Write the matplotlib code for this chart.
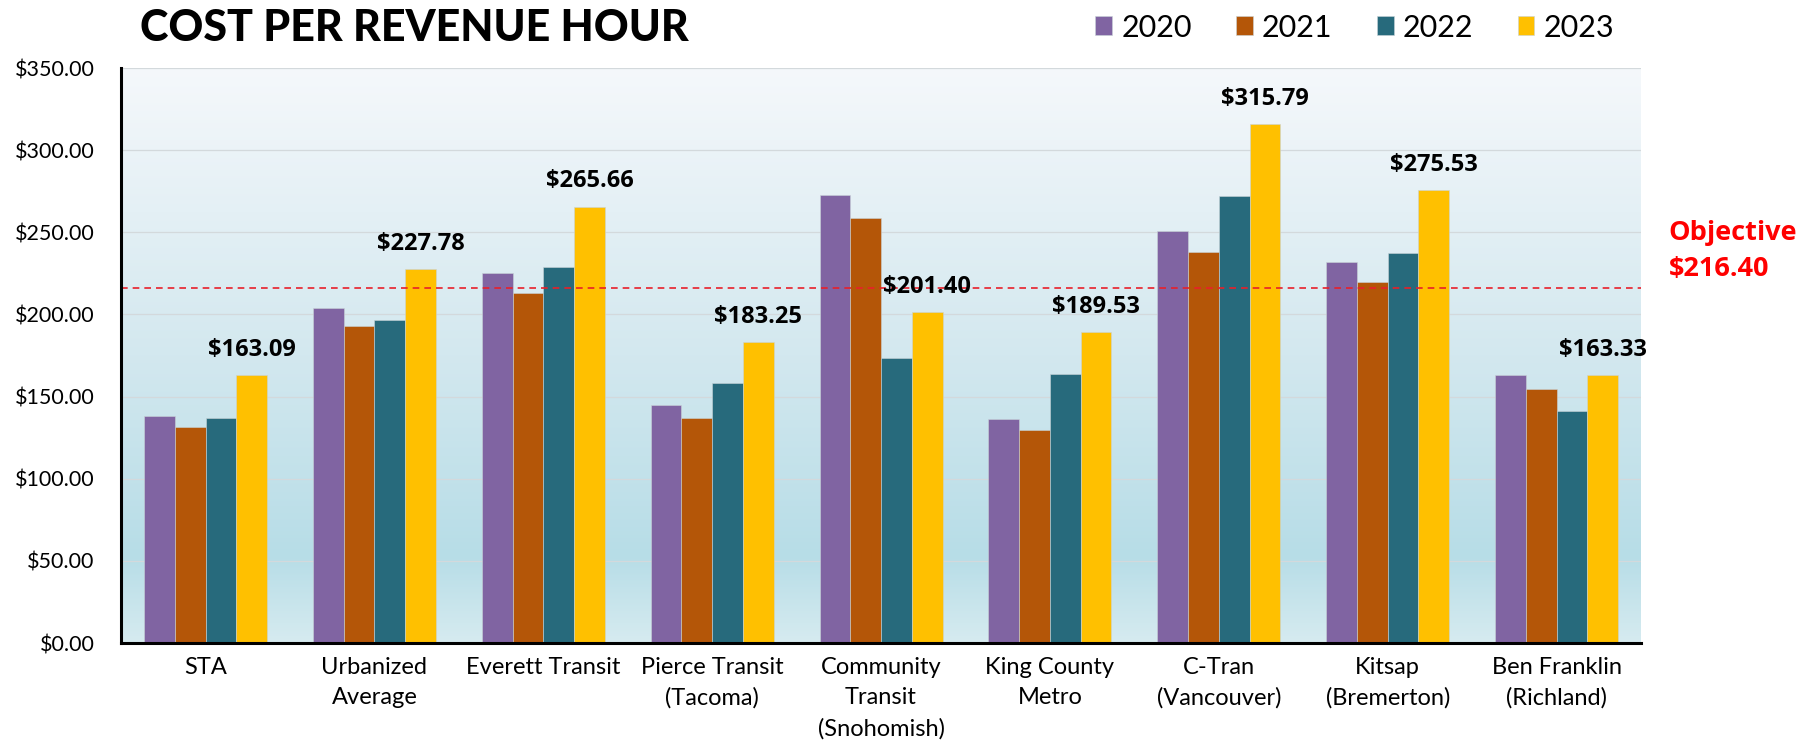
import matplotlib.pyplot as plt
import matplotlib.colors as mcolors
import numpy as np

categories = ["STA", "Urbanized\nAverage", "Everett Transit", "Pierce Transit\n(Tacoma)",
              "Community\nTransit\n(Snohomish)", "King County\nMetro", "C-Tran\n(Vancouver)",
              "Kitsap\n(Bremerton)", "Ben Franklin\n(Richland)"]
years = ["2020", "2021", "2022", "2023"]
v2020 = [138.3, 204.0, 225.0, 145.0, 273.0, 136.5, 251.0, 232.0, 163.0]
v2021 = [131.5, 193.0, 213.0, 137.0, 259.0, 129.5, 238.0, 219.5, 154.5]
v2022 = [137.0, 196.5, 229.0, 158.0, 173.5, 163.5, 272.0, 237.5, 141.0]
v2023 = [163.09, 227.78, 265.66, 183.25, 201.40, 189.53, 315.79, 275.53, 163.33]
objective = 216.40
colors = ["#8064A2", "#B45608", "#276A7C", "#FFC000"]

fig = plt.figure(figsize=(17.99, 7.45), dpi=100)
ax = fig.add_axes([0.0673, 0.1369, 0.8449, 0.7718])

# gradient background
cmap = mcolors.LinearSegmentedColormap.from_list(
    "bg", [(0, "#f5f8fb"), (0.5, "#d3e8ef"), (0.85, "#b7dde7"), (1.0, "#d6ebf0")])
grad = np.linspace(0, 1, 256).reshape(-1, 1)
ax.imshow(grad, cmap=cmap, aspect="auto", extent=[0, 1, 0, 1],
          transform=ax.transAxes, zorder=0)

x = np.arange(len(categories))
w = 0.182
series = [v2020, v2021, v2022, v2023]
for i, vals in enumerate(series):
    ax.bar(x + (i - 1.5) * w, vals, w, color=colors[i], label=years[i],
           edgecolor="#c9d4d8", linewidth=0.4, zorder=3)

for xi, v in zip(x, v2023):
    ax.text(xi + 1.5 * w, v + 8, f"${v:.2f}", ha="center", va="bottom",
            fontsize=17, fontweight="bold", family="Open Sans", zorder=5)

ax.axhline(objective, color="#e8202a", linestyle=(0, (4, 3)), linewidth=1.2, zorder=4)
ax.text(1.018, 0.681, "Objective\n$216.40", transform=ax.transAxes, color="#ff0000",
        fontsize=19.5, fontweight="bold", family="Open Sans", va="center", ha="left",
        linespacing=1.5)

ax.set_xlim(-0.5, len(categories) - 0.5)
ax.set_ylim(0, 350)
ax.set_yticks(np.arange(0, 351, 50))
ax.set_yticklabels([f"${t:.2f}" for t in np.arange(0, 351, 50)], fontsize=15.5, family="Lato")
ax.set_xticks(x)
ax.set_xticklabels(categories, fontsize=17, family="Lato", linespacing=1.55)
ax.tick_params(axis="both", length=0)
ax.tick_params(axis="y", pad=19)
ax.tick_params(axis="x", pad=10)
ax.yaxis.grid(True, color="#d3d9dc", linewidth=0.9, zorder=1)
ax.set_axisbelow(True)
for s in ["top", "right"]:
    ax.spines[s].set_visible(False)
for s in ["left", "bottom"]:
    ax.spines[s].set_linewidth(2.2)
    ax.spines[s].set_color("black")
    ax.spines[s].set_zorder(6)

fig.text(0.078, 0.963, "COST PER REVENUE HOUR", fontsize=31, fontweight="black",
         family="Lato", va="center", ha="left")

leg = fig.legend(loc="center", bbox_to_anchor=(0.753, 0.963), ncol=4, frameon=False,
                 prop={"family": "Lato", "size": 22}, handlelength=0.55, handleheight=0.6,
                 handletextpad=0.3, columnspacing=1.45)

fig.savefig("out.png", dpi=100)
